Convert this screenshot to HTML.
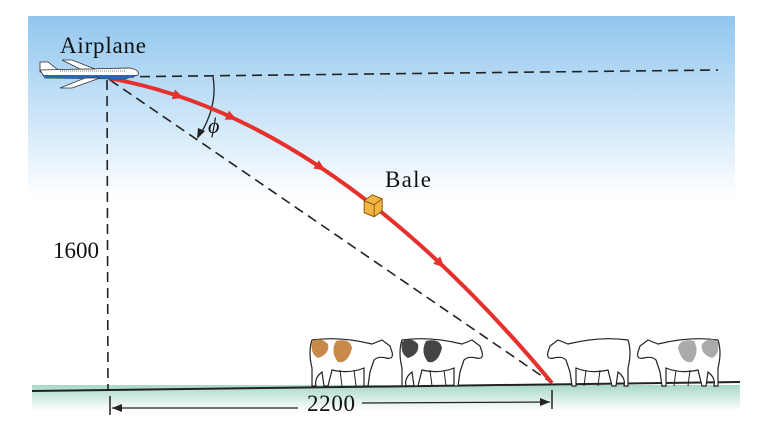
<!DOCTYPE html>
<html><head><meta charset="utf-8">
<style>
html,body{margin:0;padding:0;background:#fff;}
svg{display:block;}
text{font-family:"Liberation Serif",serif;fill:#111;}
</style></head>
<body>
<svg id="fig" width="766" height="433" viewBox="0 0 766 433">
<defs>
<linearGradient id="sky" x1="0" y1="0" x2="0" y2="1">
<stop offset="0" stop-color="#92c6ee"/>
<stop offset="0.55" stop-color="#cbe5f8"/>
<stop offset="1" stop-color="#ffffff"/>
</linearGradient>
<linearGradient id="grass" x1="0" y1="0" x2="0" y2="1">
<stop offset="0" stop-color="#a9d8c8"/>
<stop offset="1" stop-color="#ffffff"/>
</linearGradient>
</defs>
<rect x="28" y="16" width="707" height="182" fill="url(#sky)"/>
<rect x="32" y="385" width="708" height="26" fill="url(#grass)"/>
<line x1="32" y1="391" x2="740" y2="382" stroke="#222" stroke-width="2"/>

<line x1="108" y1="77" x2="718" y2="70" stroke="#222" stroke-width="1.6" stroke-dasharray="10,6"/>
<line x1="107" y1="80" x2="108" y2="390" stroke="#222" stroke-width="1.6" stroke-dasharray="10,6"/>
<line x1="110" y1="80" x2="552" y2="383" stroke="#222" stroke-width="1.6" stroke-dasharray="10,6"/>

<path d="M213,77 Q218,105 200,135" fill="none" stroke="#222" stroke-width="1.3"/>
<polygon points="197,139 198,128 205,131" fill="#222"/>
<text x="208" y="133" font-size="22" font-style="italic">ϕ</text>

<path id="traj" fill="none" stroke="#e5302c" stroke-width="4"/>
<g id="arrows"></g>
<g id="bale">
<polygon points="-8,-4 0,-10 10,-6 10,6 2,12 -8,8" fill="#f2b541" stroke="#8a5a10" stroke-width="1"/>
<polyline points="-8,-4 2,0 10,-6" fill="none" stroke="#8a5a10"/>
<line x1="2" y1="0" x2="2" y2="12" stroke="#8a5a10"/>
</g>

<g>
<polygon points="40,62 48,62 58,70 40,72" fill="#fff" stroke="#333" stroke-width="0.8"/>
<path d="M40,70 L130,68 Q140,70 138,75 L125,79 L45,78 Z" fill="#fff" stroke="#333" stroke-width="0.8"/>
<path d="M42,75 L137,75 L125,79 L45,78 Z" fill="#2a66b8"/>
<polygon points="62,60 72,60 95,69 80,69" fill="#fff" stroke="#333" stroke-width="0.8"/>
<polygon points="60,88 72,88 100,78 85,78" fill="#fff" stroke="#333" stroke-width="0.8"/>
<line x1="60" y1="71" x2="125" y2="71" stroke="#777" stroke-width="1" stroke-dasharray="1,1"/>
</g>

<text x="60" y="53" font-size="23" textLength="86">Airplane</text>
<text x="385" y="187" font-size="23" textLength="46">Bale</text>
<text x="53" y="258" font-size="23" textLength="46">1600</text>

<g>
<line x1="110" y1="396" x2="110" y2="415" stroke="#222" stroke-width="1.5"/>
<line x1="552" y1="390" x2="552" y2="409" stroke="#222" stroke-width="1.5"/>
<line x1="112" y1="408" x2="298" y2="408" stroke="#222" stroke-width="1.3"/>
<line x1="362" y1="403" x2="550" y2="402" stroke="#222" stroke-width="1.3"/>
<polygon points="112,408 122,404 122,412" fill="#222"/>
<polygon points="550,402 540,398 540,406" fill="#222"/>
</g>
<text x="307" y="411" font-size="23" textLength="48">2200</text>

<g id="cows"></g>
</svg>
<script>
// trajectory data
const startPt = [108, 78];
const ctrlPt = [330, 117];
const landPt = [552, 383];
const arrowT = [0.16, 0.28, 0.48, 0.75];
const baleT = 0.595;
const cowX = [310, 400, 545, 635];
const cowSpot = ['#c8894a', '#444444', 'none', '#aaaaaa'];
const cowFacing = [1, 1, -1, -1];

function bez(t){
  const x = (1-t)*(1-t)*startPt[0] + 2*(1-t)*t*ctrlPt[0] + t*t*landPt[0];
  const y = (1-t)*(1-t)*startPt[1] + 2*(1-t)*t*ctrlPt[1] + t*t*landPt[1];
  return [x,y];
}
const traj = document.getElementById('traj');
traj.setAttribute('d', `M${startPt[0]},${startPt[1]} Q${ctrlPt[0]},${ctrlPt[1]} ${landPt[0]},${landPt[1]}`);
const bp = bez(baleT);
document.getElementById('bale').setAttribute('transform', `translate(${bp[0]},${bp[1]})`);
const ns = 'http://www.w3.org/2000/svg';
const ag = document.getElementById('arrows');
arrowT.forEach(t => {
  const p = bez(t), q = bez(t+0.01);
  const a = Math.atan2(q[1]-p[1], q[0]-p[0])*180/Math.PI;
  const el = document.createElementNS(ns,'polygon');
  el.setAttribute('points','5,0 -6,-5 -6,5');
  el.setAttribute('fill','#e5302c');
  el.setAttribute('transform',`translate(${p[0]},${p[1]}) rotate(${a})`);
  
  
  ag.appendChild(el);
});
const cg = document.getElementById('cows');
cowX.forEach((x,i) => {
  const g = document.createElementNS(ns,'g');
  const f = cowFacing[i];
  const ox = f===1 ? x : x+85;
  g.setAttribute('transform',`translate(${ox},338) scale(${f},1)`);
  
  
  let spots = cowSpot[i]==='none' ? '' :
    `<path d="M2,4 Q10,-2 18,6 Q20,16 8,20 Q0,16 2,4Z" fill="${cowSpot[i]}"/>
     <path d="M26,3 Q40,0 42,10 Q38,26 28,24 Q20,14 26,3Z" fill="${cowSpot[i]}"/>`;
  g.innerHTML = `<path d="M2,2 Q30,-2 62,6 L72,2 L80,8 L82,14 Q84,22 76,20 Q68,18 64,22 L60,34 L58,48 L54,48 L54,30 Q40,36 22,32 L18,48 L14,48 L12,34 Q4,40 6,48 L2,48 L2,30 Q-2,14 2,2Z" fill="#fff" stroke="#222" stroke-width="1.2"/>${spots}
  <line x1="30" y1="32" x2="32" y2="48" stroke="#222"/><line x1="44" y1="32" x2="46" y2="48" stroke="#222"/>`;
  cg.appendChild(g);
});
</script>
</body></html>
